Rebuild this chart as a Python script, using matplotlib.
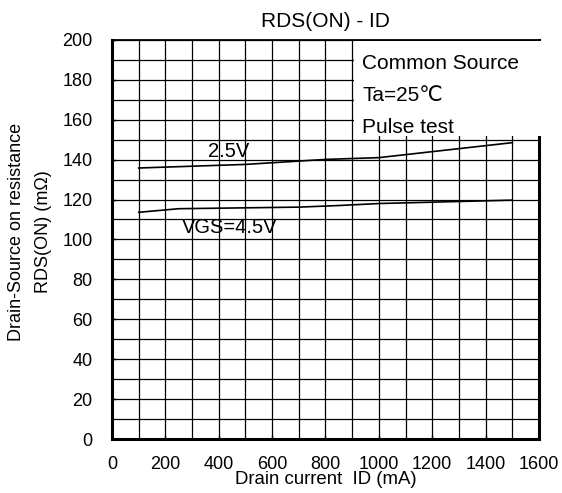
import matplotlib
matplotlib.use("Agg")
import matplotlib.pyplot as plt
from matplotlib.patches import Rectangle

plt.rcParams['font.family'] = ['Liberation Sans', 'DejaVu Sans']

id_25 = [100, 500, 800, 1000, 1500]
rds_25 = [135.8, 137.6, 140.1, 141.0, 148.5]
id_45 = [100, 250, 700, 850, 1000, 1500]
rds_45 = [113.6, 115.4, 116.2, 117.0, 118.0, 119.7]

xticks = [0, 200, 400, 600, 800, 1000, 1200, 1400, 1600]
yticks = [0, 20, 40, 60, 80, 100, 120, 140, 160, 180, 200]
notes = ["Common Source", "Ta=25\u2103", "Pulse test"]

fig = plt.figure(figsize=(5.62, 4.93), dpi=100)
ax = fig.add_axes([0.1993, 0.1095, 0.7597, 0.8096])

ax.set_xlim(0, 1600)
ax.set_ylim(0, 200)
ax.set_xticks(xticks)
ax.set_yticks(yticks)
ax.set_xticks(range(100, 1600, 100), minor=True)
ax.set_yticks(range(10, 200, 10), minor=True)
ax.grid(True, which='both', color='black', linewidth=0.9)
ax.set_axisbelow(True)
ax.tick_params(which='both', direction='in', length=3, width=1)
ax.tick_params(axis='x', which='major', labelsize=13, pad=12)
ax.tick_params(axis='y', which='major', labelsize=13, pad=14)
ax.tick_params(which='minor', length=0)

for side in ['left', 'bottom', 'right']:
    ax.spines[side].set_linewidth(2.2)
ax.spines['top'].set_linewidth(1.3)

ax.plot(id_25, rds_25, color='black', linewidth=1.2)
ax.plot(id_45, rds_45, color='black', linewidth=1.2)
ax.text(436, 144.3, "2.5V", fontsize=14.5, ha='center', va='center')
ax.text(441, 106, "VGS=4.5V", fontsize=14.5, ha='center', va='center')

# note box covers the grid in the top right
ax.add_patch(Rectangle((906, 152), 730, 47.4, facecolor='white',
                       edgecolor='none', zorder=3, clip_on=False))
for i, s in enumerate(notes):
    ax.text(938, 188 - i * 16, s, fontsize=15, ha='left', va='center', zorder=4)

ax.set_title("RDS(ON) - ID", fontsize=15, pad=9)
ax.set_xlabel("Drain current  ID (mA)", fontsize=13.4, labelpad=-1.5)
fig.text(0.029, 0.53, "Drain-Source on resistance", rotation=90,
         fontsize=13, ha='center', va='center')
fig.text(0.077, 0.53, "RDS(ON) (m\u03a9)", rotation=90,
         fontsize=13, ha='center', va='center')

fig.savefig("out.png", dpi=100)
